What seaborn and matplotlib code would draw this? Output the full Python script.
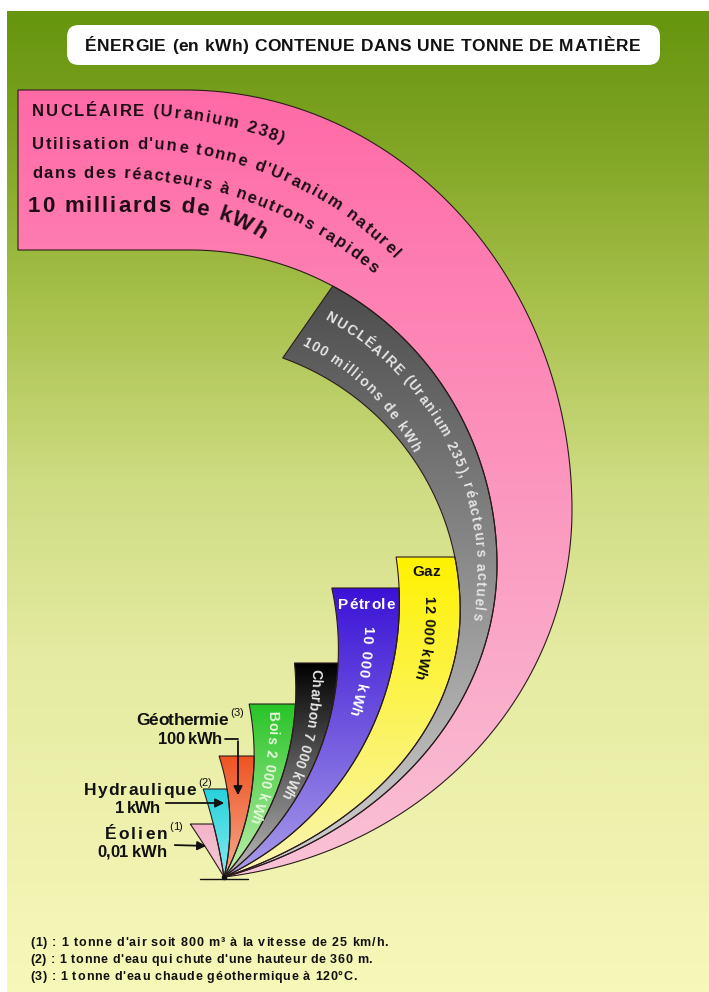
import numpy as np
import matplotlib
matplotlib.use("Agg")
import matplotlib.pyplot as plt
import seaborn as sns
from matplotlib.patches import Polygon, FancyBboxPatch
from matplotlib.colors import LinearSegmentedColormap
from matplotlib.font_manager import FontProperties, findfont, fontManager
from matplotlib.ft2font import FT2Font

# ---------------- data ----------------
sources = ["Éolien", "Hydraulique", "Géothermie", "Bois", "Charbon",
           "Pétrole", "Gaz", "Nucléaire (U235)", "Nucléaire (U238)"]
energy_kwh = [0.01, 1, 100, 2000, 7000, 10000, 12000, 1e8, 1e10]
energy_text = ["0,01 kWh", "1 kWh", "100 kWh", "2 000 kWh", "7 000 kWh",
               "10 000 kWh", "12 000 kWh", "100 millions de kWh",
               "10 milliards de kWh"]
note_marks = ["(1)", "(2)", "(3)"]
notes = ["1 tonne d'air soit 800 m³ à la vitesse de 25 km/h.",
         "1 tonne d'eau qui chute d'une hauteur de 360 m.",
         "1 tonne d'eau chaude géothermique à 120°C."]
title = "ÉNERGIE (en kWh) CONTENUE DANS UNE TONNE DE MATIÈRE"
u238_lines = ["NUCLÉAIRE (Uranium 238)",
              "Utilisation d'une tonne d'Uranium naturel",
              "dans des réacteurs à neutrons rapides",
              energy_text[8]]
u235_lines = ["NUCLÉAIRE (Uranium 235), réacteurs actuels", energy_text[7]]

band_top = ["#f3b3c6", "#25d2dc", "#ef5322", "#27c427", "#000000",
            "#3a12d6", "#fff200", "#4c4c4c", "#ff6aa6"]
band_bottom = ["#f7c9d6", "#86e9ee", "#f4ab8e", "#bff0b0", "#bdbdbd",
               "#a99ee8", "#f9f5b4", "#d2d2d2", "#f9c2d6"]

# ---------------- layout (pixels) ----------------
O = np.array([224.0, 877.0])
# edge curves: rightmost point (xr, yr), upper semi-axes, lower semi-axes
edges = [
    (395.4, 1495.0, 1200, 1200, 1200, 1200),
    (230.2, 959.7, 553, 553, 553, 553),
    (230.0, 825.5, 225.6, 225.6, 225.6, 225.6),
    (254.1, 755.0, 262.6, 262.6, 262.6, 262.6),
    (295.8, 690.0, 278.8, 278.8, 278.8, 278.8),
    (338.4, 649.0, 284.4, 284.4, 284.4, 284.4),
    (399.4, 601.8, 303.6, 303.6, 303.6, 303.6),
    (460.2, 610.5, 268.4, 268.4, 400, 292.2),
    (497.0, 564.5, 307, 314.5, 400, 329.6),
    (572.0, 510.0, 387, 420, 400, 370.2),
]
band_tops = [824, 789, 756, 704, 663, 588, 557]
grey_cut = (62.3, 70.2)
pink_left = 18

sns.set_theme(style="white")
FAMILY = "Liberation Sans"
plt.rcParams["font.family"] = [FAMILY, "DejaVu Sans"]
_names = {f.name for f in fontManager.ttflist}
NARROW = "Liberation Sans Narrow" if "Liberation Sans Narrow" in _names else FAMILY


def edge_point(e, phi):
    xr, yr, au, bu, al, bl = e
    phi = np.atleast_1d(np.asarray(phi, float))
    a = np.where(phi >= 0, au, al)
    b = np.where(phi >= 0, bu, bl)
    return np.column_stack([xr - a + a * np.cos(phi), yr - b * np.sin(phi)])


def phi_origin(e):
    xr, yr, au, bu, al, bl = e
    a, b = (au, bu) if yr >= O[1] else (al, bl)
    return np.arctan2((yr - O[1]) / b, (O[0] - xr + a) / a)


def phi_at_y(e, h):
    xr, yr, au, bu, al, bl = e
    if h <= yr:
        return np.arcsin(np.clip((yr - h) / bu, -1, 1))
    return -np.arcsin(np.clip((h - yr) / bl, -1, 1))


def x_at_y(e, y):
    xr, yr, au, bu, al, bl = e
    y = np.asarray(y, float)
    a = np.where(y <= yr, au, al)
    b = np.where(y <= yr, bu, bl)
    return xr - a + a * np.sqrt(np.clip(1 - ((yr - y) / b) ** 2, 0, 1))


def edge_curve(e, p0, p1, n=160):
    return edge_point(e, np.linspace(p0, p1, n))


def band_polygon(i):
    inner, outer = edges[i], edges[i + 1]
    if i < len(band_tops):
        h = band_tops[i]
        po = edge_curve(outer, phi_origin(outer), phi_at_y(outer, h))
        pi = edge_curve(inner, phi_origin(inner), phi_at_y(inner, h))
        return np.vstack([[O], po, pi[::-1]])
    if i == 7:
        po = edge_curve(outer, phi_origin(outer), np.radians(grey_cut[0]))
        pi = edge_curve(inner, phi_origin(inner), np.radians(grey_cut[1]))
        return np.vstack([[O], po, pi[::-1]])
    po = edge_curve(outer, phi_origin(outer), np.pi / 2)
    pi = edge_curve(inner, phi_origin(inner), np.pi / 2)
    return np.vstack([[O], po, [[pink_left, po[-1, 1]], [pink_left, pi[-1, 1]]],
                      pi[::-1]])


def curved_text(ax, s, path, size, color, weight="bold", start=0.0,
                length=None, center=False, family=None, z=8):
    prop = FontProperties(family=family or FAMILY, weight=weight, size=size)
    font = FT2Font(findfont(prop), hinting_factor=1)
    font.set_size(size, 100)
    adv = np.array([font.load_char(ord(c)).linearHoriAdvance / 65536 for c in s])
    gap = 0.0 if length is None else (length - adv.sum()) / max(len(s) - 1, 1)
    path = np.asarray(path, float)
    d = np.hypot(*np.diff(path, axis=0).T)
    cum = np.concatenate([[0], np.cumsum(d)])
    shift = 0.36 * size * 100 / 72 if center else 0.0
    pos = start
    for c, w in zip(s, adv):
        m = pos + w / 2
        x, y = np.interp(m, cum, path[:, 0]), np.interp(m, cum, path[:, 1])
        tx = np.interp(m + 1, cum, path[:, 0]) - np.interp(m - 1, cum, path[:, 0])
        ty = np.interp(m + 1, cum, path[:, 1]) - np.interp(m - 1, cum, path[:, 1])
        nrm = np.hypot(tx, ty)
        tx, ty = tx / nrm, ty / nrm
        x, y = x - ty * shift, y + tx * shift
        if c.strip():
            ax.text(x, y, c, rotation=np.degrees(np.arctan2(-ty, tx)),
                    rotation_mode="anchor", ha="center", va="baseline",
                    fontproperties=prop, color=color, zorder=z)
        pos += w + gap


def spaced_text(ax, s, x0, y0, size, length=None, color="#111111",
                weight="bold", family=None, z=8):
    path = np.array([[x0, y0], [x0 + 1500, y0]])
    curved_text(ax, s, path, size, color, weight, 0.0, length, False, family, z)


def flat_arc(x0, y0, x_flat, radius):
    flat = np.column_stack([np.linspace(x0, x_flat, 60), np.full(60, y0)])
    th = np.linspace(0, 1.6, 300)
    arc = np.column_stack([x_flat + radius * np.sin(th),
                           y0 + radius * (1 - np.cos(th))])
    return np.vstack([flat, arc[1:]])


def circle_path(cx, cy, r, d0, d1):
    ph = np.radians(np.linspace(d0, d1, 400))
    return np.column_stack([cx + r * np.cos(ph), cy - r * np.sin(ph)])


def midline(i, y0, y1):
    y = np.linspace(y0, y1, 300)
    return np.column_stack([(x_at_y(edges[i], y) + x_at_y(edges[i + 1], y)) / 2, y])


fig = plt.figure(figsize=(7.09, 9.92), dpi=100)
fig.patch.set_facecolor("white")
ax = fig.add_axes([0, 0, 1, 1])

# background gradient
bg = LinearSegmentedColormap.from_list(
    "bg", [(0.0, "#66950e"), (0.12, "#7da321"), (0.3, "#a8c14c"),
           (0.48, "#cedc82"), (0.66, "#e5eba2"), (1.0, "#f6f8b8")])
ax.imshow(np.linspace(0, 1, 256)[:, None], cmap=bg, extent=(7, 709, 992, 11),
          aspect="auto", zorder=0, interpolation="bilinear")

# bands
polys = [band_polygon(i) for i in range(len(sources))]
for i in reversed(range(len(sources))):
    poly = polys[i]
    cmap = sns.blend_palette([band_top[i], band_bottom[i]], as_cmap=True)
    x0, x1 = poly[:, 0].min(), poly[:, 0].max()
    y0, y1 = poly[:, 1].min(), poly[:, 1].max()
    im = ax.imshow(np.linspace(0, 1, 256)[:, None], cmap=cmap,
                   extent=(x0, x1, y1, y0), aspect="auto", zorder=2,
                   interpolation="bilinear")
    im.set_clip_path(Polygon(poly, closed=True, transform=ax.transData))
for poly in polys:
    ax.add_patch(Polygon(poly, closed=True, facecolor="none",
                         edgecolor="#2b1c1c", lw=0.8, zorder=3))

# origin marker
ax.plot([200, 248], [879, 879], color="#111111", lw=1.0, zorder=4)
ax.plot([O[0]], [O[1]], "o", color="#111111", ms=3, zorder=4)

# title box
ax.add_patch(FancyBboxPatch((67, 25), 593, 40,
                            boxstyle="round,pad=0,rounding_size=12",
                            facecolor="white", edgecolor="none", zorder=5))
spaced_text(ax, title, 85, 51, 12.5, length=555)

# U238 text
pink_lines = [(32, 116, 140, 380, 12, 254), (32, 149, 135, 360, 12, 392),
              (32, 178, 110, 410, 12, 364), (28, 212, 170, 165, 16, 240)]
for s, (x0, y0, xf, r, fs, ln) in zip(u238_lines, pink_lines):
    curved_text(ax, s, flat_arc(x0, y0, xf, r), fs, "#1e0d14", length=ln)

# U235 text
curved_text(ax, u235_lines[0], circle_path(190, 572, 286, 62, -15), 10,
            "#e4e4e4", length=357)
curved_text(ax, u235_lines[1], circle_path(190, 572, 253, 64, 10), 10,
            "#e4e4e4", length=159)

# small band names and values
spaced_text(ax, "Gaz", 412, 576, 11, length=28)
spaced_text(ax, sources[5], 338, 609, 11, length=57, color="white")
curved_text(ax, energy_text[6], midline(6, 590, 760), 10.5, "#111111",
            start=6, length=85, center=True)
curved_text(ax, energy_text[5], midline(5, 620, 780), 10.5, "white",
            start=6, length=92, center=True)
curved_text(ax, sources[4] + " " + energy_text[4], midline(4, 665, 860), 10,
            "#e6e6e6", start=4, length=135, center=True)
curved_text(ax, sources[3] + " " + energy_text[3], midline(3, 705, 870), 10,
            "#e8f8dc", start=6, length=115, center=True)

# left labels with arrows
labels = [(2, 136, 725, 92, 158, 744, 64),
          (1, 84, 795, 112, 115, 813, 45),
          (0, 105, 839, 62, 97, 857, 70)]
for k, (i, xn, yn, ln, xv, yv, lv) in enumerate(labels):
    spaced_text(ax, sources[i], xn, yn, 12.5, length=ln)
    spaced_text(ax, note_marks[2 - k], xn + ln + 2, yn - 9, 8, weight="normal")
    spaced_text(ax, energy_text[i], xv, yv, 12, length=lv)

arrow = dict(arrowstyle="-|>", color="#111111", lw=1.3, mutation_scale=13)
ax.plot([225, 238], [739, 739], color="#111111", lw=1.3, zorder=6)
ax.annotate("", xy=(238, 798), xytext=(238, 738.4), arrowprops=arrow, zorder=6)
ax.annotate("", xy=(227, 803), xytext=(163, 803), arrowprops=arrow, zorder=6)
ax.annotate("", xy=(209, 846), xytext=(172, 845), arrowprops=arrow, zorder=6)

# footnotes
note_y = [946, 963, 980]
note_len = [358, 342, 327]
note_size = 10.5 if NARROW != FAMILY else 9
for mark, txt, y, ln in zip(note_marks, notes, note_y, note_len):
    spaced_text(ax, f"{mark} : {txt}", 30, y, note_size, length=ln, family=NARROW)

ax.set_xlim(0, 709)
ax.set_ylim(992, 0)
ax.axis("off")
fig.savefig("out.png", dpi=100)
